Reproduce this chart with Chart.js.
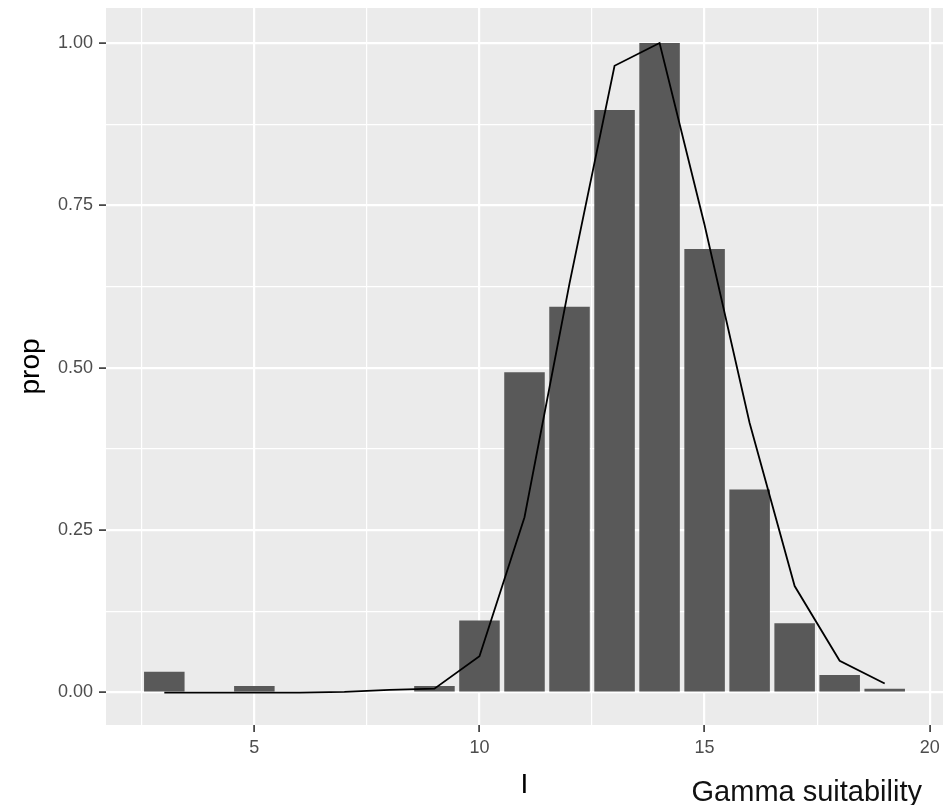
<!DOCTYPE html>
<html>
<head>
<meta charset="utf-8">
<script src="https://cdn.jsdelivr.net/npm/chart.js@4.4.1/dist/chart.umd.min.js"></script>
<style>
  html, body { margin: 0; padding: 0; background: #ffffff; }
  canvas { display: block; }
</style>
</head>
<body>
<canvas id="chart" width="943" height="805"></canvas>
<script>
// Histogram of proportions per bin, with the fitted gamma curve laid over it
const binX     = [3, 4, 5, 6, 7, 8, 9, 10, 11, 12, 13, 14, 15, 16, 17, 18, 19];
const binProp  = [0.032, 0, 0.010, 0, 0, 0, 0.010, 0.111, 0.493, 0.594, 0.897, 1.000, 0.683, 0.3125, 0.1065, 0.027, 0.006];
const curveX   = [3, 4, 5, 6, 7, 8, 9, 10, 11, 12, 13, 14, 15, 16, 17, 18, 19];
const curveProp = [0.000, 0.000, 0.000, 0.000, 0.001, 0.004, 0.006, 0.056, 0.270, 0.630, 0.965, 1.000, 0.720, 0.415, 0.164, 0.049, 0.014];

// Axis breaks: labelled ones are major, blank ones are minor grid lines
const xBreaks = [2.5, 5, 7.5, 10, 12.5, 15, 17.5, 20];
const xLabels = ['', '5', '', '10', '', '15', '', '20'];
const yBreaks = [0, 0.125, 0.25, 0.375, 0.5, 0.625, 0.75, 0.875, 1];
const yLabels = ['0.00', '', '0.25', '', '0.50', '', '0.75', '', '1.00'];

const xTitle = 'I';
const yTitle = 'prop';
const caption = 'Gamma suitability';

const FONT = "'Liberation Sans', Arial, Helvetica, sans-serif";

const isMajor = (labels, i) => labels[i] !== undefined && labels[i] !== '';

// Grey panel behind the plotting area
const panelBackground = {
  id: 'panelBackground',
  beforeDraw(chart) {
    const { ctx, chartArea: a } = chart;
    ctx.save();
    ctx.fillStyle = '#EBEBEB';
    ctx.fillRect(a.left, a.top, a.right - a.left, a.bottom - a.top);
    ctx.restore();
  }
};

// Caption in the lower right corner
const captionText = {
  id: 'captionText',
  afterDraw(chart) {
    const { ctx } = chart;
    ctx.save();
    ctx.font = '29px ' + FONT;
    ctx.fillStyle = '#111111';
    ctx.textAlign = 'right';
    ctx.textBaseline = 'alphabetic';
    ctx.fillText(caption, 922, 801);
    ctx.restore();
  }
};

function gridFor(labels) {
  return {
    color: '#FFFFFF',
    lineWidth: c => isMajor(labels, c.index) ? 2.2 : 1.2,
    tickColor: c => isMajor(labels, c.index) ? '#333333' : 'rgba(0,0,0,0)',
    tickLength: 7,
    tickWidth: 1.6,
    offset: false,
    drawOnChartArea: true,
    drawTicks: true
  };
}

new Chart(document.getElementById('chart'), {
  type: 'bar',
  data: {
    datasets: [
      {
        type: 'line',
        data: curveX.map((x, i) => ({ x: x, y: curveProp[i] })),
        borderColor: '#000000',
        borderWidth: 1.8,
        pointRadius: 0,
        tension: 0,
        fill: false,
        order: 0
      },
      {
        type: 'bar',
        data: binX.map((x, i) => ({ x: x, y: binProp[i] })),
        backgroundColor: '#595959',
        borderWidth: 0,
        barPercentage: 0.9,
        categoryPercentage: 1.0,
        order: 1
      }
    ]
  },
  options: {
    responsive: false,
    devicePixelRatio: 1,
    animation: false,
    layout: { padding: { top: 8, right: 0, bottom: 0, left: 0 } },
    plugins: {
      legend: { display: false },
      tooltip: { enabled: false },
      title: { display: false }
    },
    scales: {
      x: {
        type: 'linear',
        offset: false,
        min: 1.705,
        max: 20.295,
        afterBuildTicks: s => { s.ticks = xBreaks.map(v => ({ value: v })); },
        afterFit: s => { s.height = 80; s.paddingLeft = 0; s.paddingRight = 0; },
        grid: gridFor(xLabels),
        border: { display: false },
        ticks: {
          callback: (v, i) => xLabels[i],
          color: '#4D4D4D',
          font: { family: FONT, size: 18 },
          padding: 5,
          maxRotation: 0,
          autoSkip: false
        },
        title: {
          display: true,
          text: xTitle,
          color: '#000000',
          font: { family: FONT, size: 28 },
          padding: { top: 0, bottom: 3 }
        }
      },
      y: {
        type: 'linear',
        min: -0.05,
        max: 1.054,
        afterBuildTicks: s => { s.ticks = yBreaks.map(v => ({ value: v })); },
        afterFit: s => { s.width = 106; s.paddingTop = 0; s.paddingBottom = 0; },
        grid: gridFor(yLabels),
        border: { display: false },
        ticks: {
          callback: (v, i) => yLabels[i],
          color: '#4D4D4D',
          font: { family: FONT, size: 18 },
          padding: 6,
          autoSkip: false
        },
        title: {
          display: true,
          text: yTitle,
          color: '#000000',
          font: { family: FONT, size: 28 },
          padding: { top: 14, bottom: 0 }
        }
      }
    }
  },
  plugins: [panelBackground, captionText]
});
</script>
</body>
</html>
